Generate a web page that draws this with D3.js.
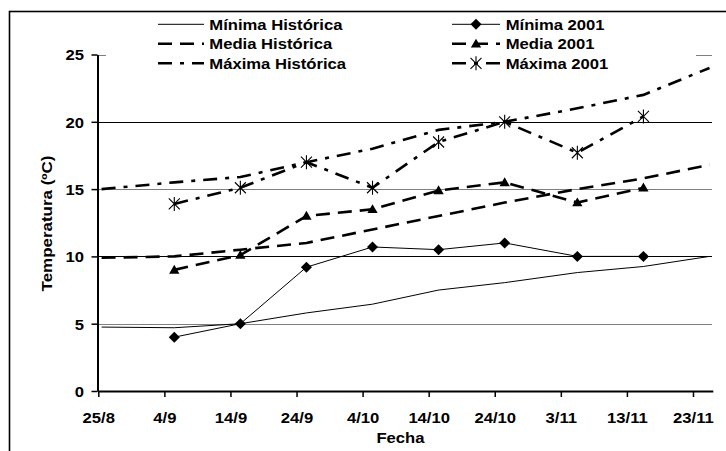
<!DOCTYPE html>
<html><head><meta charset="utf-8">
<script src="https://cdn.jsdelivr.net/npm/d3@7/dist/d3.min.js"></script>
<style>
html,body{margin:0;padding:0;background:#fff;}
svg{display:block;}
text{font-family:"Liberation Sans",Arial,sans-serif;font-weight:bold;font-size:15px;fill:#000;}
</style></head>
<body><svg id="c" width="726" height="451"></svg>
<script>
// ---- data ----
const xTickLabels = ["25/8","4/9","14/9","24/9","4/10","14/10","24/10","3/11","13/11","23/11"];
const yTicks = [0, 5, 10, 15, 20, 25];
const histDates = ["25/8","5/9","15/9","25/9","5/10","15/10","25/10","5/11","15/11","25/11"];
const minHist   = [4.75, 4.7, 5.0, 5.8, 6.45, 7.5, 8.05, 8.8, 9.25, 10.0];
const mediaHist = [9.9, 10.0, 10.5, 11.0, 12.0, 13.0, 14.0, 15.0, 15.8, 16.8];
const maxHist   = [15.0, 15.5, 15.9, 17.0, 18.0, 19.4, 20.0, 21.0, 22.0, 24.0];
const dates2001 = ["5/9","15/9","25/9","5/10","15/10","25/10","5/11","15/11"];
const min2001   = [4.0, 5.0, 9.2, 10.7, 10.5, 11.0, 10.0, 10.0];
const media2001 = [9.0, 10.1, 13.0, 13.5, 14.9, 15.5, 14.0, 15.1];
const max2001   = [13.9, 15.1, 17.0, 15.1, 18.5, 20.0, 17.7, 20.4];
const seriesNames = ["Mínima Histórica","Media Histórica","Máxima Histórica","Mínima 2001","Media 2001","Máxima 2001"];
const xTitle = "Fecha", yTitle = "Temperatura (ºC)";
const YEAR = 2001;

// ---- helpers ----
const parseDM = s => { const [d,m] = s.split("/").map(Number); return new Date(Date.UTC(YEAR, m-1, d)); };
const HALF = 12*3600*1000; // points centred in their day slot
const SX = 1.11;

const svg = d3.select("#c");
const x = d3.scaleUtc().domain([parseDM("25/8"), new Date(Date.UTC(YEAR,10,26))]).range([98.3, 712.8]);
const y = d3.scaleLinear().domain([0, 25]).range([391, 54.5]);

// outer border
svg.append("rect").attr("x",9.5).attr("y",11.5).attr("width",800).attr("height",500)
  .attr("fill","none").attr("stroke","#000").attr("stroke-width",1.6);

// gridlines
svg.append("g").selectAll("line").data(yTicks.filter(v=>v>0)).join("line")
  .attr("x1",98.3).attr("x2",712).attr("y1",d=>Math.round(y(d))+0.5).attr("y2",d=>Math.round(y(d))+0.5)
  .attr("stroke",d=>d%10===0?"#000":"#7f7f7f").attr("stroke-width",1);

// axes
const xAxis = svg.append("g").attr("transform","translate(0,391)")
  .call(d3.axisBottom(x).tickValues(xTickLabels.map(parseDM)).tickFormat((d,i)=>xTickLabels[i]).tickSize(6).tickSizeOuter(0));
xAxis.select(".domain").attr("stroke-width",2);
xAxis.selectAll(".tick line").attr("stroke-width",1.5);
xAxis.selectAll(".tick text").attr("y",null).attr("dy",null).attr("font-size",null).attr("font-family",null)
  .attr("transform",`translate(0,32.3) scale(${SX},1)`);

const yAxis = svg.append("g").attr("transform","translate(97.5,0)")
  .call(d3.axisLeft(y).tickValues(yTicks).tickSize(6).tickSizeOuter(0));
yAxis.select(".domain").attr("stroke-width",2);
yAxis.selectAll(".tick line").attr("stroke-width",1.5);
yAxis.selectAll(".tick text").attr("x",null).attr("dy",null).attr("font-size",null).attr("font-family",null)
  .attr("transform",`translate(-13.5,5.4) scale(${SX},1)`);

// titles
svg.append("text").attr("text-anchor","middle").attr("transform",`translate(400.5,443.3) scale(${SX},1)`).text(xTitle);
svg.append("text").attr("text-anchor","middle").attr("transform",`translate(51.5,223.5) rotate(-90) scale(1.13,1)`).text(yTitle);

// series
const styles = [
  {w:1,   dash:null},
  {w:2.6, dash:"14,8"},
  {w:2.6, dash:"14,8,4,8"},
  {w:1,   dash:null},
  {w:2.6, dash:"14,8"},
  {w:2.6, dash:"14,8,4,8"}
];
const series = [
  {dates:histDates, vals:minHist,   st:styles[0], mk:null},
  {dates:histDates, vals:mediaHist, st:styles[1], mk:null},
  {dates:histDates, vals:maxHist,   st:styles[2], mk:null},
  {dates:dates2001, vals:min2001,   st:styles[3], mk:"diamond"},
  {dates:dates2001, vals:media2001, st:styles[4], mk:"triangle"},
  {dates:dates2001, vals:max2001,   st:styles[5], mk:"star"}
];
const line = d3.line().x(d=>x(new Date(d[0].getTime()+HALF))).y(d=>y(d[1]));

function marker(g, type){
  if(type==="diamond"){
    g.append("path").attr("d", d3.symbol(d3.symbolSquare, 61)()).attr("transform","rotate(45)").attr("fill","#000");
  } else if(type==="triangle"){
    g.append("path").attr("d", d3.symbol(d3.symbolTriangle, 46)()).attr("transform","translate(0,0.8)").attr("fill","#000");
  } else if(type==="star"){
    g.append("path").attr("d","M-5.5,-5.5L5.5,5.5M-5.5,5.5L5.5,-5.5M0,-7L0,7").attr("stroke","#000").attr("stroke-width",1.1).attr("fill","none");
  }
}

series.forEach(s=>{
  const pts = s.dates.map((d,i)=>[parseDM(d), s.vals[i]]);
  svg.append("path").datum(pts).attr("d",line).attr("fill","none").attr("stroke","#000")
    .attr("stroke-width",s.st.w).attr("stroke-dasharray",s.st.dash);
  if(s.mk){
    pts.forEach(p=>{
      const g = svg.append("g").attr("transform",`translate(${x(new Date(p[0].getTime()+HALF))},${y(p[1])})`);
      marker(g, s.mk);
    });
  }
});

// legend
const lg = svg.append("g");
lg.append("rect").attr("x",106).attr("y",14).attr("width",590).attr("height",54).attr("fill","#fff");
const rowsY = [24.3, 43.8, 63.3];
series.forEach((s,i)=>{
  const col = i<3?0:1, row = i%3;
  const x0 = col===0?158:452, x1 = col===0?204:500, tx = col===0?209.3:505.7;
  const yy = rowsY[row];
  lg.append("line").attr("x1",x0).attr("x2",x1).attr("y1",yy).attr("y2",yy)
    .attr("stroke","#000").attr("stroke-width",s.st.w).attr("stroke-dasharray",s.st.dash);
  if(s.mk){ const g = lg.append("g").attr("transform",`translate(${(x0+x1)/2},${yy})`); marker(g, s.mk); }
  lg.append("text").attr("transform",`translate(${tx},${yy+5.2}) scale(${SX},1)`).text(seriesNames[i]);
});
</script></body></html>
